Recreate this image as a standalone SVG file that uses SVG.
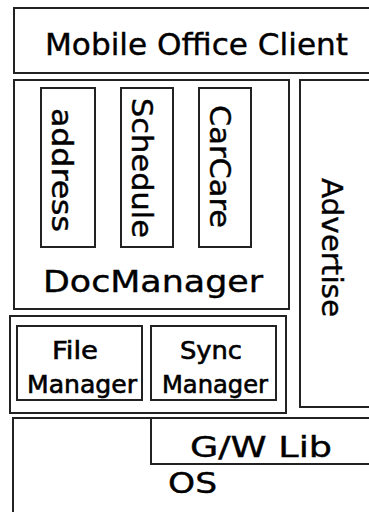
<svg xmlns="http://www.w3.org/2000/svg" width="369" height="512" viewBox="0 0 369 512">
  <style>
    .box { fill: #ffffff; stroke: #222222; stroke-width: 2; }
    .lbl { font-family: "DejaVu Sans", "Liberation Sans", sans-serif; fill: #000000; stroke: #000000; stroke-width: 0.4; }
    .big { font-size: 31px; }
    .mid { font-size: 28px; }
    .sm { font-size: 24px; stroke-width: 0.6; }
  </style>
  <rect width="369" height="512" fill="#ffffff"/>

  <g id="client">
    <rect class="box" x="14" y="8" width="370" height="65"/>
    <text class="lbl big" x="45" y="55" textLength="303" lengthAdjust="spacingAndGlyphs">Mobile Office Client</text>
  </g>

  <g id="docmanager">
    <rect class="box" x="14" y="80" width="275" height="229"/>
    <text class="lbl big" x="43" y="292" textLength="220" lengthAdjust="spacingAndGlyphs">DocManager</text>
  </g>

  <g id="address">
    <rect class="box" x="41" y="88" width="54" height="159"/>
    <text class="lbl mid" transform="translate(52,108) rotate(90)" textLength="124" lengthAdjust="spacingAndGlyphs">address</text>
  </g>

  <g id="schedule">
    <rect class="box" x="121" y="88" width="52" height="159"/>
    <text class="lbl mid" transform="translate(132,98) rotate(90)" textLength="140" lengthAdjust="spacingAndGlyphs">Schedule</text>
  </g>

  <g id="carcare">
    <rect class="box" x="199" y="88" width="52" height="159"/>
    <text class="lbl mid" transform="translate(210,105) rotate(90)" textLength="123" lengthAdjust="spacingAndGlyphs">CarCare</text>
  </g>

  <g id="advertise">
    <rect class="box" x="300" y="80" width="80" height="327"/>
    <text class="lbl mid" transform="translate(322,178) rotate(90)" textLength="139" lengthAdjust="spacingAndGlyphs">Advertise</text>
  </g>

  <g id="managers">
    <rect class="box" x="10" y="316" width="276" height="97"/>
  </g>

  <g id="file-manager">
    <rect class="box" x="17" y="326" width="125" height="74"/>
    <text class="lbl sm" x="52" y="359" textLength="46" lengthAdjust="spacingAndGlyphs">File</text>
    <text class="lbl sm" x="27" y="393" textLength="110" lengthAdjust="spacingAndGlyphs">Manager</text>
  </g>

  <g id="sync-manager">
    <rect class="box" x="151" y="326" width="125" height="74"/>
    <text class="lbl sm" x="180" y="359" textLength="62" lengthAdjust="spacingAndGlyphs">Sync</text>
    <text class="lbl sm" x="162" y="393" textLength="106" lengthAdjust="spacingAndGlyphs">Manager</text>
  </g>

  <g id="os">
    <rect class="box" x="13" y="418" width="370" height="110"/>
    <text class="lbl mid" x="168" y="493" textLength="49" lengthAdjust="spacingAndGlyphs">OS</text>
  </g>

  <g id="gw-lib">
    <rect class="box" x="151" y="418" width="232" height="46"/>
    <text class="lbl mid" x="190" y="457" textLength="142" lengthAdjust="spacingAndGlyphs">G/W Lib</text>
  </g>
</svg>
